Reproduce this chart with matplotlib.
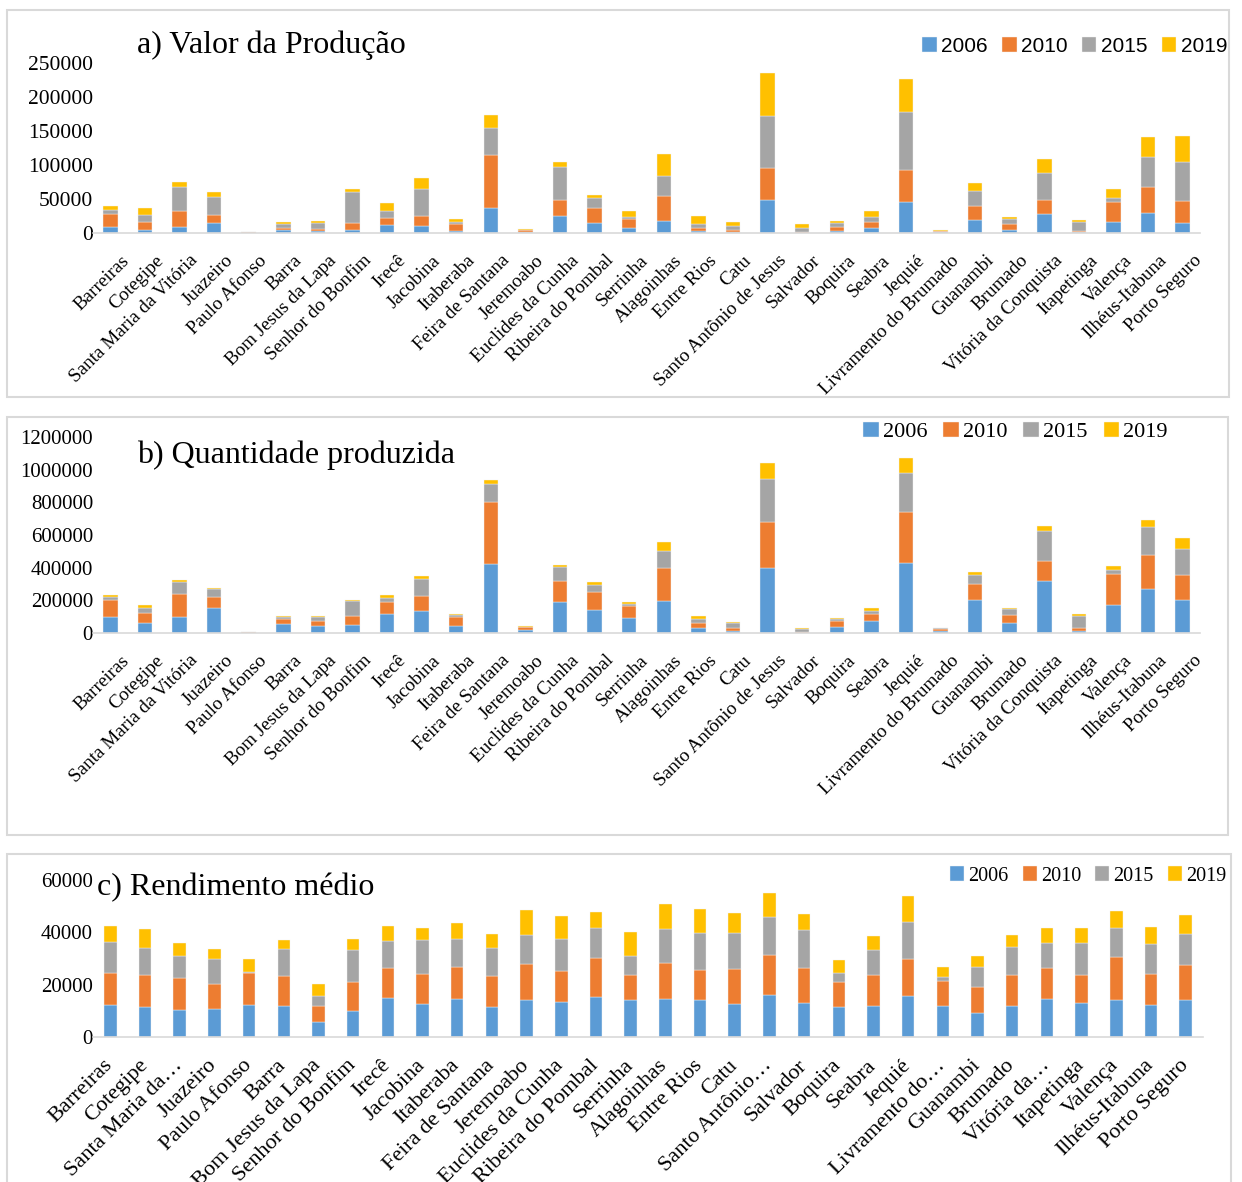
import numpy as np
import matplotlib
matplotlib.use("Agg")
import matplotlib.pyplot as plt
from matplotlib.patches import Rectangle
from matplotlib.transforms import ScaledTranslation

# municipios (eixo x)
municipios = ["Barreiras", "Cotegipe", "Santa Maria da Vitória", "Juazeiro", "Paulo Afonso",
              "Barra", "Bom Jesus da Lapa", "Senhor do Bonfim", "Irecê", "Jacobina", "Itaberaba",
              "Feira de Santana", "Jeremoabo", "Euclides da Cunha", "Ribeira do Pombal", "Serrinha",
              "Alagoinhas", "Entre Rios", "Catu", "Santo Antônio de Jesus", "Salvador", "Boquira",
              "Seabra", "Jequié", "Livramento do Brumado", "Guanambi", "Brumado",
              "Vitória da Conquista", "Itapetinga", "Valença", "Ilhéus-Itabuna", "Porto Seguro"]
# rotulos cortados do grafico c
municipios_c = ["Barreiras", "Cotegipe", "Santa Maria da…", "Juazeiro", "Paulo Afonso",
                "Barra", "Bom Jesus da Lapa", "Senhor do Bonfim", "Irecê", "Jacobina", "Itaberaba",
                "Feira de Santana", "Jeremoabo", "Euclides da Cunha", "Ribeira do Pombal", "Serrinha",
                "Alagoinhas", "Entre Rios", "Catu", "Santo Antônio…", "Salvador", "Boquira",
                "Seabra", "Jequié", "Livramento do…", "Guanambi", "Brumado",
                "Vitória da…", "Itapetinga", "Valença", "Ilhéus-Itabuna", "Porto Seguro"]
anos = ["2006", "2010", "2015", "2019"]

# a) valor da producao
valor_2006 = [8400, 4400, 8400, 14300, 300, 3900, 3000, 4900, 11300, 9900, 3500, 37000, 1500, 25100, 14300, 7900,
              17700, 3000, 1500, 48800, 500, 3500, 6900, 44900, 1500, 18700, 4900, 28100, 1500, 16800, 29600, 15300]
valor_2010 = [19200, 11900, 23600, 11800, 700, 4000, 2900, 9900, 11400, 15200, 9300, 77400, 3000, 23700, 22200, 12300,
              36500, 3900, 2400, 46800, 500, 4900, 9400, 48300, 1000, 20700, 8400, 19700, 2000, 29000, 37900, 31500]
valor_2015 = [5900, 10800, 35500, 26200, 200, 4900, 8400, 45300, 9300, 39000, 3500, 40400, 300, 48800, 14800, 3000,
              29600, 5900, 6500, 76000, 5900, 5900, 6900, 84300, 500, 22200, 6900, 40400, 12800, 5000, 44400, 57700]
valor_2019 = [5900, 9900, 6900, 7300, 200, 3000, 3900, 4500, 11400, 17200, 4900, 18200, 600, 6400, 4900, 8800,
              32100, 11800, 6400, 64100, 5900, 3900, 9800, 49300, 1400, 12400, 4000, 21200, 3400, 13800, 29600, 38000]

# b) quantidade produzida
qtd_2006 = [100500, 63600, 98500, 155900, 3000, 57400, 45100, 49200, 119000, 137400, 43100, 424600, 16400, 192800,
            143600, 94300, 196900, 32800, 14400, 395800, 2000, 36900, 73800, 426600, 10300, 201000, 61500, 315900,
            10300, 172300, 270700, 205100]
qtd_2010 = [98500, 59500, 137400, 65600, 4000, 28700, 26700, 53400, 71800, 90300, 55400, 375400, 18500, 127200,
            108700, 71800, 203100, 30800, 16400, 281000, 6200, 36900, 45200, 311800, 12300, 100500, 47200, 123000,
            20500, 186600, 209200, 151800]
qtd_2015 = [20500, 32800, 77900, 45100, 1000, 10300, 26700, 92200, 24600, 100500, 12300, 110600, 2000, 86100,
            43000, 10300, 102500, 20500, 28700, 268700, 14400, 10300, 16400, 239900, 6100, 55400, 39000, 182600,
            75900, 24600, 170300, 159900]
qtd_2019 = [12300, 14300, 10300, 10300, 500, 6200, 4100, 6200, 18400, 20500, 6100, 26700, 4100, 10300,
            14400, 12300, 57400, 18500, 6100, 94400, 6100, 8200, 20500, 92300, 4100, 18400, 8200, 34800,
            8200, 26700, 43000, 65700]

# c) rendimento medio
rend_2006 = [12400, 11500, 10300, 10700, 12200, 11800, 5700, 10100, 14800, 12500, 14500, 11500, 14100, 13200, 15200,
             14100, 14400, 14100, 12500, 15900, 13000, 11600, 12000, 15500, 12000, 9300, 11800, 14400, 12900, 14000,
             12200, 14000]
rend_2010 = [12200, 12100, 12100, 9400, 12300, 11500, 6000, 10800, 11600, 11600, 12400, 11800, 13800, 12000, 14900,
             9500, 14000, 11400, 13400, 15300, 13200, 9300, 11700, 14300, 9300, 9900, 11800, 12000, 10700, 16400,
             11900, 13400]
rend_2015 = [11800, 10300, 8600, 9800, 200, 10200, 3800, 12200, 10400, 12800, 10700, 10700, 11000, 12300, 11400,
             7400, 12800, 14400, 14000, 14800, 14600, 3400, 9700, 14200, 1500, 7400, 10800, 9700, 12200, 11100,
             11400, 12000]
rend_2019 = [5900, 7500, 4900, 3900, 5300, 3700, 4800, 4500, 5600, 4900, 6000, 5200, 9800, 8900, 6300, 9300, 9500,
             8900, 7500, 9000, 6100, 5100, 5300, 10000, 4100, 4500, 4500, 5600, 6000, 6700, 6700, 7200]

cores = ["#5B9BD5", "#ED7D31", "#A5A5A5", "#FFC000"]
serif = ["Liberation Serif", "DejaVu Serif"]
sans = ["Liberation Sans", "DejaVu Sans"]

W, H = 1242, 1182
fig = plt.figure(figsize=(W / 100, H / 100), dpi=100)


def eixo(x0, x1, ybase, ytop):
    # posicao em pixels -> fracao da figura
    return fig.add_axes([x0 / W, (H - ybase) / H, (x1 - x0) / W, (ybase - ytop) / H])


def caixa(x0, y0, x1, y1):
    fig.patches.append(Rectangle((x0 / W, (H - y1) / H), (x1 - x0) / W, (y1 - y0) / H,
                                 transform=fig.transFigure, fill=False, edgecolor="#D9D9D9", lw=1.5))


def grafico(ax, series, ymax, ystep, rotulos, fs_tick, fs_lab, largura, dx, dy):
    x = np.arange(len(rotulos))
    base = np.zeros(len(rotulos))
    for s, c, a in zip(series, cores, anos):
        ax.bar(x, s, largura, bottom=base, color=c, edgecolor="#F2F2F2", linewidth=0.3, label=a)
        base += np.array(s)
    ax.set_xlim(-0.5, len(rotulos) - 0.5)
    ax.set_ylim(0, ymax)
    ax.set_yticks(np.arange(0, ymax + 1, ystep))
    ax.set_yticklabels([str(int(v)) for v in np.arange(0, ymax + 1, ystep)], family=serif, fontsize=fs_tick)
    ax.set_xticks(x)
    ax.set_xticklabels([])
    # rotulos inclinados, deslocados em pixels
    desloc = ax.get_xaxis_transform() + ScaledTranslation(dx / 100, -dy / 100, fig.dpi_scale_trans)
    for i, r in zip(x, rotulos):
        ax.text(i, 0, r, transform=desloc, rotation=45, ha="right", va="top", rotation_mode="anchor",
                family=serif, fontsize=fs_lab, clip_on=False)
    ax.tick_params(axis="both", length=0)
    ax.tick_params(axis="y", pad=0)
    for k in ["top", "right", "left"]:
        ax.spines[k].set_visible(False)
    ax.spines["bottom"].set_color("#D9D9D9")
    ax.spines["bottom"].set_linewidth(1.2)
    ax.patch.set_alpha(0)


caixa(7, 10, 1229, 397)
caixa(7, 417, 1228, 835)
caixa(7, 854, 1231, 1195)

ax1 = eixo(93, 1200, 233, 63)
grafico(ax1, [valor_2006, valor_2010, valor_2015, valor_2019], 250000, 50000, municipios, 15.5, 13.8, 0.42, 10, 19)
ax2 = eixo(93, 1200, 633, 437)
grafico(ax2, [qtd_2006, qtd_2010, qtd_2015, qtd_2019], 1200000, 200000, municipios, 15, 13.8, 0.42, 10, 19)
ax3 = eixo(93, 1203, 1037, 880)
grafico(ax3, [rend_2006, rend_2010, rend_2015, rend_2019], 60000, 20000, municipios_c, 15, 16, 0.36, -7, 19)

fig.text(137 / W, 1 - 45 / H, "a) Valor da Produção", family=serif, fontsize=23, va="center")
fig.text(137 / W, 1 - 455 / H, "b) Quantidade produzida", family=serif, fontsize=23, va="center")
fig.text(97 / W, 1 - 888 / H, "c) Rendimento médio", family=serif, fontsize=23, va="center")

kw = dict(ncol=4, frameon=False, handlelength=0.7, handleheight=0.7, handletextpad=0.2,
          columnspacing=0.7, borderaxespad=0, borderpad=0, loc="center right")
ax1.legend(bbox_to_anchor=(1227 / W, 1 - 46 / H), bbox_transform=fig.transFigure,
           prop={"family": sans, "size": 15}, **kw)
ax2.legend(bbox_to_anchor=(1168 / W, 1 - 432 / H), bbox_transform=fig.transFigure,
           prop={"family": serif, "size": 16}, **kw)
ax3.legend(bbox_to_anchor=(1226 / W, 1 - 876 / H), bbox_transform=fig.transFigure,
           prop={"family": serif, "size": 14.5}, **kw)

fig.savefig("out.png", dpi=100, facecolor="white")
